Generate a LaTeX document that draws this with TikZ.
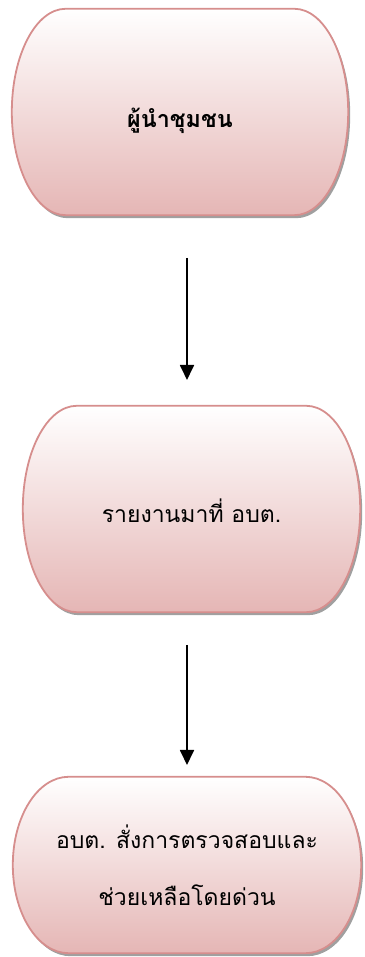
\documentclass[tikz,border=0pt]{standalone}
\usepackage{fontspec}
\newfontfamily\thaifont[Script=Thai]{Loma}
\usetikzlibrary{arrows.meta,shadows,backgrounds,calc}
\definecolor{termborder}{RGB}{214,142,141}
\definecolor{termfill}{RGB}{229,182,181}
\tikzset{
  termbox/.style={draw=none,inner sep=0pt,align=center,font=\thaifont\fontsize{23}{57}\selectfont},
  termpath/.style={draw=termborder,line width=1.8pt,top color=white,bottom color=termfill,
    drop shadow={shadow xshift=2pt,shadow yshift=-3pt,fill=black!50,opacity=0.75}},
  flow/.style={line width=1.8pt,-{Triangle[width=14pt,length=15pt]}}
}
\newcommand\termshape[1]{%
  \path let \p1=(#1.south west),\p2=(#1.north east),
    \n1={0.16*(\x2-\x1)},\n2={0.5*(\y2-\y1)} in
    [termpath] ({\x1+\n1},\y1) -- ({\x2-\n1},\y1)
    arc[start angle=-90,end angle=90,x radius=\n1,y radius=\n2]
    -- ({\x1+\n1},\y2)
    arc[start angle=90,end angle=270,x radius=\n1,y radius=\n2] -- cycle;}
\begin{document}
\begin{tikzpicture}[x=1pt,y=1pt]
\useasboundingbox (0,0) rectangle (364,957);
\node[termbox,minimum width=336pt,minimum height=206pt] (b1) at (180,845) {\raisebox{-16pt}[0pt][0pt]{\fontsize{23.3}{30}\selectfont\bfseries ผู้นำชุมชน}};
\node[termbox,minimum width=337pt,minimum height=206pt] (b2) at (191.5,448) {\raisebox{-14pt}[0pt][0pt]{รายงานมาที่ อบต.}};
\node[termbox,minimum width=348pt,minimum height=176pt] (b3) at (187,92) {อบต. สั่งการตรวจสอบและ\\ช่วยเหลือโดยด่วน};
\begin{scope}[on background layer]
\termshape{b1}
\termshape{b2}
\termshape{b3}
\end{scope}
\coordinate (a1s) at (187,699);
\coordinate (a1e) at (187,577);
\coordinate (a2s) at (187,312);
\coordinate (a2e) at (187,192);
\draw[flow] (a1s) -- (a1e);
\draw[flow] (a2s) -- (a2e);
\end{tikzpicture}
\end{document}
